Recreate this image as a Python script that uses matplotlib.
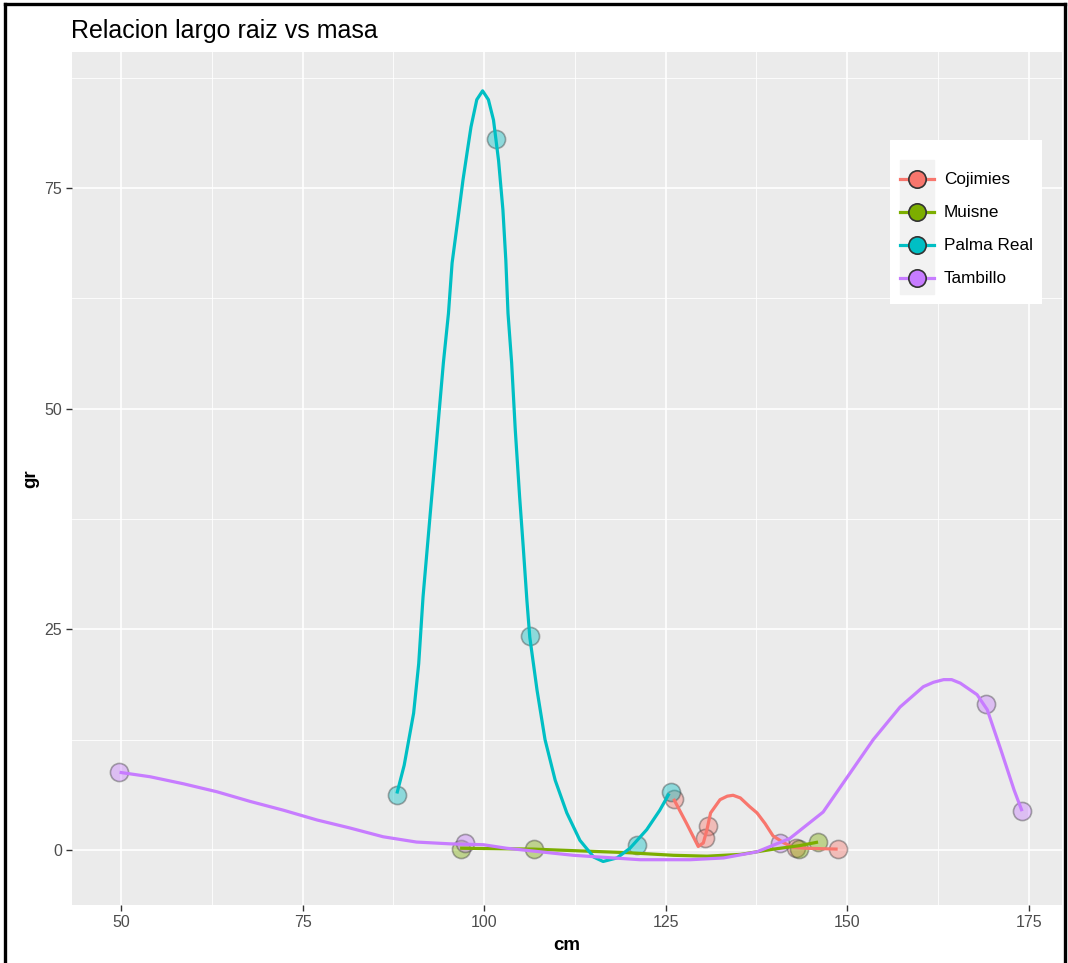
import numpy as np
import matplotlib.pyplot as plt
from matplotlib.lines import Line2D
from matplotlib.patches import Rectangle
from matplotlib.colors import to_rgba

plt.rcParams['font.family'] = ['Liberation Sans', 'DejaVu Sans']

# groups and colours (ggplot hue palette)
grupos = ['Cojimies', 'Muisne', 'Palma Real', 'Tambillo']
colores = ['#F8766D', '#7CAE00', '#00BFC4', '#C77CFF']

# observed points (largo raiz cm, masa gr)
cojimies_x = [126.1, 130.8, 130.5, 143.0, 148.8]
cojimies_y = [5.8, 2.7, 1.4, 0.2, 0.1]
muisne_x = [96.8, 106.9, 143.4, 146.0]
muisne_y = [0.1, 0.1, 0.1, 0.9]
palma_x = [88.0, 101.6, 106.3, 121.0, 125.7]
palma_y = [6.2, 80.6, 24.2, 0.6, 6.6]
tambillo_x = [49.7, 97.4, 140.8, 169.2, 174.1]
tambillo_y = [8.8, 0.8, 0.8, 16.5, 4.4]

# smooth (loess) curves
cojimies_sx = [126.1, 127.9, 129.5, 130.2, 130.7, 131.2, 132.5, 133.5, 134.3, 135.3,
               136.6, 137.6, 138.7, 139.8, 141.3, 142.6, 144.4, 146.5, 148.7]
cojimies_sy = [5.8, 3.0, 0.4, 0.8, 2.3, 4.2, 5.7, 6.1, 6.2, 5.9,
               4.9, 4.2, 3.0, 1.6, 0.8, 0.3, 0.2, 0.15, 0.1]
muisne_sx = [96.7, 106.8, 113.2, 119.7, 126.1, 130.7, 135.3, 139.9, 143.5, 146.0]
muisne_sy = [0.2, 0.1, -0.1, -0.3, -0.6, -0.7, -0.5, 0.1, 0.5, 0.9]
palma_sx = [88.0, 89.0, 90.3, 91.0, 91.6, 92.0, 92.6, 93.2, 93.8, 94.4, 95.1, 95.6,
            96.5, 97.1, 97.7, 98.2, 99.0, 99.8, 100.6, 101.3, 102.0, 102.6, 103.0,
            103.3, 103.8, 104.3, 104.9, 105.4, 105.9, 106.3, 107.3, 108.4, 109.8,
            111.4, 113.2, 115.1, 116.4, 118.3, 120.1, 122.4, 124.2, 125.5]
palma_sy = [6.4, 9.6, 15.5, 21.1, 28.7, 32.5, 38.2, 43.8, 49.5, 55.2, 60.8, 66.5,
            72.1, 75.9, 79.2, 81.9, 85.0, 86.0, 85.0, 82.7, 78.1, 72.5, 66.8,
            60.8, 55.2, 47.6, 40.0, 34.3, 28.3, 24.1, 18.1, 12.5, 7.9,
            4.2, 1.1, -0.8, -1.3, -0.9, 0.2, 2.3, 4.5, 6.4]
tambillo_sx = [49.8, 54.0, 58.6, 63.2, 67.8, 72.4, 77.0, 81.5, 86.1, 90.7, 95.3, 99.9,
               103.1, 112.3, 121.5, 128.4, 133.0, 137.6, 142.1, 146.7, 150.4, 153.6,
               157.3, 160.5, 161.9, 163.3, 164.4, 165.6, 167.9, 169.3, 171.2, 173.0,
               174.1]
tambillo_sy = [8.8, 8.3, 7.5, 6.6, 5.5, 4.5, 3.4, 2.5, 1.5, 0.9, 0.7, 0.6,
               0.2, -0.6, -1.1, -1.1, -0.9, -0.2, 1.3, 4.3, 8.7, 12.5,
               16.2, 18.5, 19.0, 19.3, 19.3, 18.9, 17.6, 15.9, 11.3, 6.8,
               4.4]

puntos = [(cojimies_x, cojimies_y), (muisne_x, muisne_y),
          (palma_x, palma_y), (tambillo_x, tambillo_y)]
curvas = [(cojimies_sx, cojimies_sy), (muisne_sx, muisne_sy),
          (palma_sx, palma_sy), (tambillo_sx, tambillo_sy)]

W, H = 1068, 963
fig = plt.figure(figsize=(W / 100, H / 100), dpi=100)
fig.patch.set_facecolor('white')

ax = fig.add_axes([72 / W, 1 - 905 / H, 990 / W, 853 / H])
ax.set_facecolor('#EBEBEB')
ax.set_xlim(43.25, 179.6)
ax.set_ylim(-6.23, 90.4)
ax.set_xticks([50, 75, 100, 125, 150, 175])
ax.set_yticks([0, 25, 50, 75])
ax.set_xticks([62.5, 87.5, 112.5, 137.5, 162.5], minor=True)
ax.set_yticks([12.5, 37.5, 62.5, 87.5], minor=True)
ax.grid(which='major', color='white', lw=1.2)
ax.grid(which='minor', color='white', lw=0.6)
ax.set_axisbelow(True)
for s in ax.spines.values():
    s.set_visible(False)
ax.tick_params(which='major', length=4, width=1, color='#333333',
               labelcolor='#4D4D4D', labelsize=11.5, pad=3)
ax.tick_params(which='minor', length=0)
ax.set_xlabel('cm', fontsize=13.5, fontweight='bold', labelpad=5)
ax.set_ylabel('gr', fontsize=13.5, fontweight='bold', labelpad=4)

for (px, py), c in zip(puntos, colores):
    ax.scatter(px, py, s=170, facecolors=[to_rgba(c, 0.4)],
               edgecolors=[to_rgba('#333333', 0.4)], linewidths=1.2, zorder=2)
for (cx, cy), c in zip(curvas, colores):
    ax.plot(cx, cy, color=c, lw=2.3, zorder=3, solid_capstyle='butt')

fig.text(71 / W, 1 - 31 / H, 'Relacion largo raiz vs masa', fontsize=18,
         va='center', ha='left', color='black')

# legend box drawn in pixel units
lax = fig.add_axes([890 / W, 1 - 304 / H, 152 / W, 164 / H])
lax.set_xlim(0, 152)
lax.set_ylim(164, 0)
lax.axis('off')
lax.add_patch(Rectangle((0, 0), 152, 164, color='white'))
lax.add_patch(Rectangle((10, 20), 34, 134, color='#F2F2F2'))
for i, (g, c) in enumerate(zip(grupos, colores)):
    yy = 39.5 + i * 33
    lax.plot([10, 44], [yy, yy], color=c, lw=2.3)
    lax.plot([27], [yy], marker='o', ms=12.5, mfc=c, mec='#333333', mew=1.2)
    lax.text(54, yy, g, fontsize=12.3, va='center', ha='left', color='black')

# screenshot frame
fr = dict(color='black', lw=2.4, transform=fig.transFigure)
fig.add_artist(Line2D([4.5 / W, 4.5 / W], [0, 1 - 4.5 / H], **fr))
fig.add_artist(Line2D([4.5 / W, 1064.5 / W], [1 - 4.5 / H, 1 - 4.5 / H], **fr))
fig.add_artist(Line2D([1064.5 / W, 1064.5 / W], [0, 1 - 4.5 / H], **fr))

fig.savefig('out.png', dpi=100)
